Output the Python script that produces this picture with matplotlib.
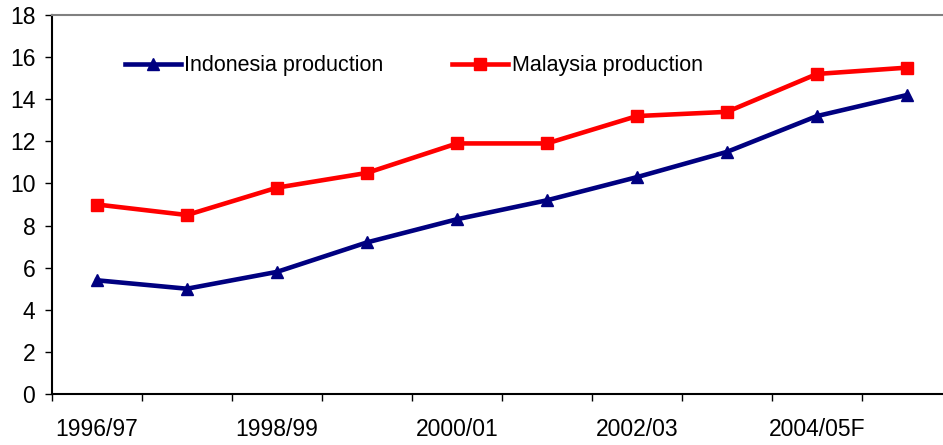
import numpy as np
import matplotlib.pyplot as plt

plt.rcParams['font.family'] = ['Liberation Sans', 'DejaVu Sans']

seasons = ["1996/97", "1997/98", "1998/99", "1999/00", "2000/01",
           "2001/02", "2002/03", "2003/04", "2004/05F", "2005/06F"]
indonesia = [5.4, 5.0, 5.8, 7.2, 8.3, 9.2, 10.3, 11.5, 13.2, 14.2]
malaysia = [9.0, 8.5, 9.8, 10.5, 11.9, 11.9, 13.2, 13.4, 15.2, 15.5]

W, H = 943, 445
fig = plt.figure(figsize=(W / 100, H / 100), dpi=100)
# plot area runs a little past the right edge, like the cropped original
ax = fig.add_axes([52 / W, 1 - 394 / H, 900 / W, (394 - 15) / H])

x = np.arange(len(seasons))
ax.plot(x, indonesia, color="#000080", lw=3.3, marker="^", ms=9,
        label="Indonesia production")
ax.plot(x, malaysia, color="#ff0000", lw=3.3, marker="s", ms=8.5,
        label="Malaysia production")

ax.set_xlim(-0.5, len(seasons) - 0.5)
ax.set_ylim(0, 18)
ax.set_yticks(range(0, 19, 2))
ax.set_xticks(x[::2])
ax.set_xticklabels(seasons[::2])
ax.set_xticks(np.arange(-0.5, len(seasons), 1), minor=True)
ax.tick_params(axis="x", which="major", length=0, pad=17, labelsize=16.5)
ax.tick_params(axis="x", which="minor", length=5, width=1, color="#000000")
ax.tick_params(axis="y", length=5, width=1, labelsize=16.5, pad=7)

ax.spines["right"].set_visible(False)
ax.spines["top"].set_color("#808080")
ax.spines["top"].set_linewidth(1.5)
ax.spines["left"].set_linewidth(1.5)
ax.spines["bottom"].set_linewidth(1.5)

ax.legend(loc="center left", bbox_to_anchor=(125 / W, 1 - 66 / H),
          bbox_transform=fig.transFigure, ncol=2, frameon=False,
          fontsize=15.5, handlelength=2.6, handletextpad=0.15,
          columnspacing=3.2, borderpad=0, borderaxespad=0)

fig.savefig("out.png", dpi=100)
